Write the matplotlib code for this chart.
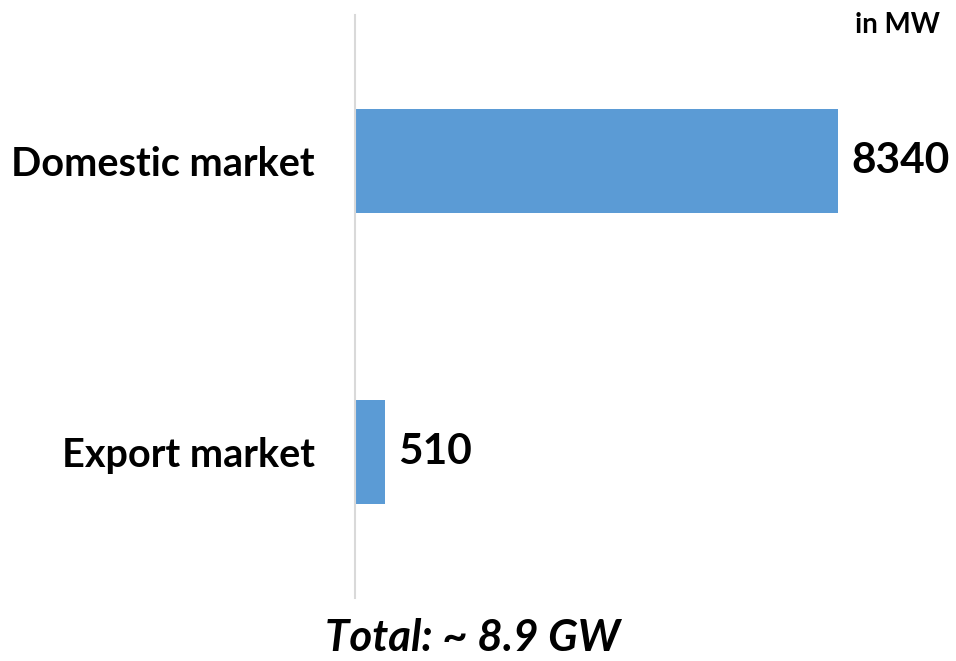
import matplotlib
matplotlib.use("Agg")
import matplotlib.pyplot as plt

categories = ["Export market", "Domestic market"]
values = [510, 8340]
unit_label = "in MW"
total_label = "Total: ~ 8.9 GW"

plt.rcParams['font.family'] = ['Lato', 'DejaVu Sans']

fig = plt.figure(figsize=(9.56, 6.61), dpi=100)
W, H = 956, 661
ax = fig.add_axes([355 / W, 1 - 598 / H, (956 - 355) / W, (598 - 15) / H])

ypos = list(range(len(categories)))
ax.barh(ypos, values, height=0.357, color="#5B9BD5", left=0)
ax.set_xlim(0, 10380)
ax.set_ylim(-0.5, 1.5)

ax.set_yticks(ypos)
ax.set_yticklabels(categories, fontsize=28.5, fontweight="bold")
ax.tick_params(axis="y", length=0, pad=29)
ax.set_xticks([])
for s in ["top", "right", "bottom"]:
    ax.spines[s].set_visible(False)
ax.spines["left"].set_color("#D9D9D9")
ax.spines["left"].set_linewidth(1.5)

for y, v in zip(ypos, values):
    ax.text(v + 230, y, str(v), va="center", ha="left", fontsize=30.5, fontweight="bold")

fig.text(940 / W, 1 - 25 / H, unit_label, ha="right", va="center", fontsize=20, fontweight="bold")
fig.text(473 / W, 1 - 638 / H, total_label, ha="center", va="center", fontsize=31.5,
         fontweight="bold", fontstyle="italic")

fig.savefig("out.png", dpi=100)
